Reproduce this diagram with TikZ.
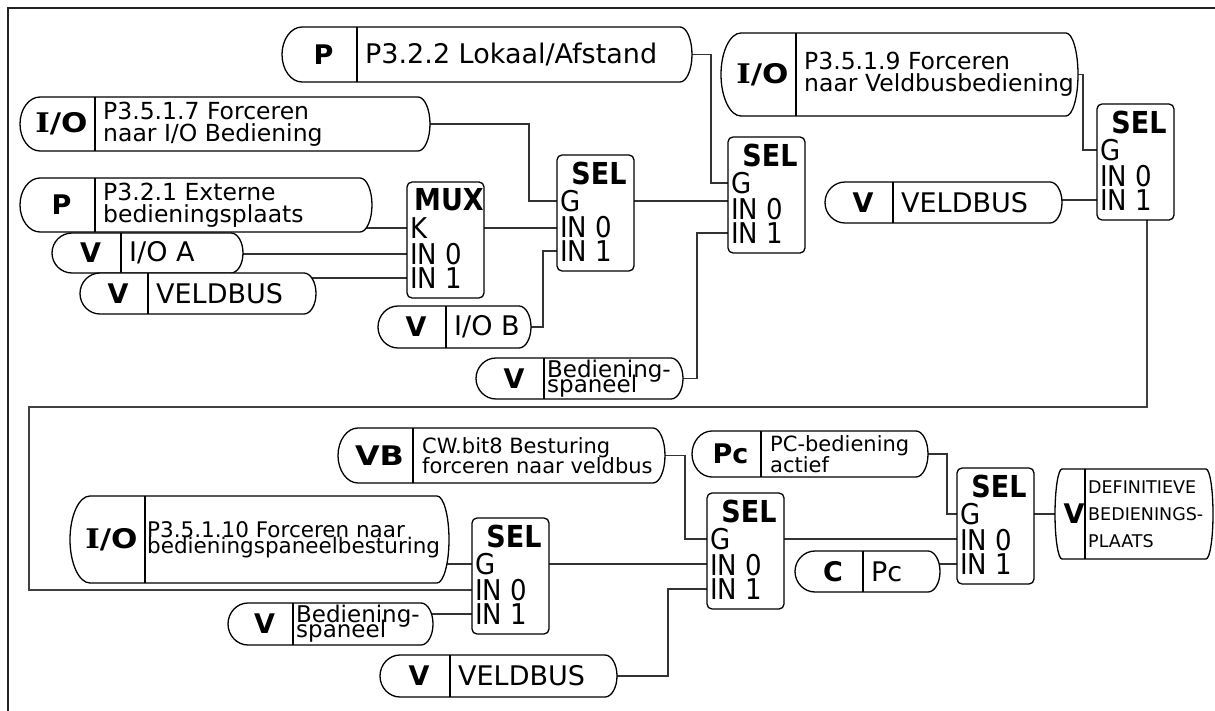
\documentclass[tikz,border=0pt]{standalone}
\usepackage{fontspec}
\setmainfont{DejaVu Sans}
\newfontfamily\serifI{DejaVu Serif}
\usepackage{tikz}
\usetikzlibrary{backgrounds}
\definecolor{wiregray}{HTML}{333333}
\definecolor{framegray}{HTML}{222222}

\tikzset{
  sigline/.style={line width=1.3pt, draw=black},
  wire/.style={line width=1.3pt, draw=wiregray},
  frameline/.style={line width=1.5pt, draw=framegray},
  tagfont/.style={font=\fontsize{27}{27}\selectfont\bfseries, inner sep=0pt},
  txtl/.style={font=\fontsize{27}{30}\selectfont, inner xsep=8pt, inner ysep=0pt, align=left},
  txtm/.style={font={\fontsize{23.5}{22}\selectfont\lineskiplimit=-50pt}, inner xsep=8pt, inner ysep=0pt, align=left},
  txts/.style={font={\fontsize{21}{20.5}\selectfont\lineskiplimit=-50pt}, inner xsep=9pt, inner ysep=0pt, align=left},
  txtw/.style={font={\fontsize{21.5}{16}\selectfont\lineskiplimit=-50pt}, inner xsep=2pt, inner ysep=0pt, align=left},
  txtp/.style={font={\fontsize{23}{15}\selectfont\lineskiplimit=-50pt}, inner xsep=3pt, inner ysep=0pt, align=left},
  txtd/.style={font={\fontsize{17.5}{27}\selectfont\lineskiplimit=-50pt}, inner xsep=3pt, inner ysep=0pt, align=left},
  blockbox/.style={draw, line width=1.3pt, rounded corners=5pt, fill=white,
    minimum width=77pt, minimum height=116pt, inner sep=0pt, outer sep=0pt},
  blocktitle/.style={font=\fontsize{27}{27}\selectfont\bfseries, inner sep=0pt},
  rowtext/.style={font=\fontsize{26}{26}\selectfont, anchor=west, inner xsep=3pt, inner ysep=0pt}
}

% wide bold I/O with a slab I
\newcommand{\iotag}{\scalebox{1.15}[1]{{\serifI I}/O}}

% arc widths of the signal boxes
\newcommand{\sigleft}{20}
\newcommand{\sigright}{12}

% signal box: name, left, top, right, bottom, divider, tag, text style, text
\newcommand{\sigbox}[9]{%
  \pgfmathsetmacro{\sbM}{(#3+#5)/2}%
  \pgfmathsetmacro{\sbH}{(#5-#3)/2*0.55}%
  \pgfmathsetmacro{\sbA}{#2+\sigleft}%
  \pgfmathsetmacro{\sbAc}{#2+0.45*\sigleft}%
  \pgfmathsetmacro{\sbB}{#4-\sigright}%
  \pgfmathsetmacro{\sbBc}{#4-0.45*\sigright}%
  \draw[sigline, fill=white] (\sbA,#3) -- (\sbB,#3)
    .. controls (\sbBc,#3) and (#4,{\sbM-\sbH}) .. (#4,\sbM)
    .. controls (#4,{\sbM+\sbH}) and (\sbBc,#5) .. (\sbB,#5)
    -- (\sbA,#5)
    .. controls (\sbAc,#5) and (#2,{\sbM+\sbH}) .. (#2,\sbM)
    .. controls (#2,{\sbM-\sbH}) and (\sbAc,#3) .. cycle;
  \draw[sigline] (#6,#3) -- (#6,#5);
  \node[inner sep=0pt, outer sep=0pt, minimum width={(#4-#2)*1pt},
    minimum height={(#5-#3)*1pt}] (#1) at ({(#2+#4)/2},\sbM) {};
  \coordinate (#1-r) at ({#4-15},\sbM);
  \node[tagfont] (#1-tag) at ({(#2+#6)/2+4},\sbM) {#7};
  \node[#8, anchor=west] (#1-txt) at (#6,\sbM) {#9};
}

% function block: name, left, top, title, first input
\newcommand{\selblock}[5]{%
  \node[blockbox] (#1) at ({#2+38.5},{#3+58}) {};
  \node[blocktitle] (#1-title) at ({#2+42},{#3+18}) {\scalebox{1}[1.12]{#4}};
  \foreach \port/\lab/\dy in {g/#5/46, in0/IN 0/72, in1/IN 1/96} {
    \coordinate (#1-\port) at (#2,{#3+\dy});
    \node[rowtext] (#1-\port-lab) at (#1-\port) {\scalebox{1}[1.1]{\lab}};
  }
}

\begin{document}
\begin{tikzpicture}[x=1pt, y=-1pt]
    \useasboundingbox (0,0) rectangle (1215,711);

    % Frame
    \draw[frameline] (1215,8) -- (8,8) -- (8,711);

    % Upper chain
    \sigbox{pl}{282}{27}{692}{82}{357}{P}{txtl}{P3.2.2 Lokaal/Afstand}
    \sigbox{iofw}{20}{97}{430}{151}{95}{\iotag}{txtm}{P3.5.1.7 Forceren\\naar I/O Bediening}
    \sigbox{pext}{20}{178}{372}{232}{95}{P}{txtm}{P3.2.1 Externe\\bedieningsplaats}
    \sigbox{ioa}{52}{233}{243}{273}{121}{V}{txtl}{I/O A}
    \sigbox{vbus1}{80}{273}{316}{314}{148}{V}{txtl}{VELDBUS}
    \sigbox{iob}{378}{306}{531}{348}{446}{V}{txtl}{I/O B}
    \sigbox{bp1}{476}{358}{683}{399}{544}{V}{txtp}{Bediening-\\spaneel}
    \sigbox{iofv}{721}{33}{1078}{116}{796}{\iotag}{txtm}{P3.5.1.9 Forceren\\naar Veldbusbediening}
    \sigbox{vbus2}{825}{182}{1062}{223}{893}{V}{txtl}{VELDBUS}

    \selblock{mux}{407}{182}{MUX}{K}
    \selblock{s1}{557}{155}{SEL}{G}
    \selblock{s2}{728}{137}{SEL}{G}
    \selblock{s3}{1097}{104}{SEL}{G}

    % Lower chain
    \sigbox{cw}{338}{428}{665}{483}{413}{\scalebox{1.18}[1]{VB}}{txts}{CW.bit8 Besturing\\forceren naar veldbus}
    \sigbox{pc}{692}{431}{928}{477}{761}{Pc}{txts}{PC-bediening\\actief}
    \sigbox{iofb}{70}{496}{449}{583}{145}{\iotag}{txtw}{P3.5.1.10 Forceren naar\\bedieningspaneelbesturing}
    \sigbox{bp2}{228}{603}{433}{645}{293}{V}{txtp}{Bediening-\\spaneel}
    \sigbox{vbus3}{380}{655}{617}{697}{450}{V}{txtl}{VELDBUS}
    \sigbox{cpc}{795}{551}{940}{592}{863}{C}{txtl}{Pc}
    \renewcommand{\sigleft}{7}\renewcommand{\sigright}{7}
    \sigbox{defpl}{1055}{469}{1213}{559}{1085}{V}{txtd}{DEFINITIEVE\\BEDIENINGS-\\PLAATS}

    \selblock{s4}{472}{518}{SEL}{G}
    \selblock{s5}{707}{493}{SEL}{G}
    \selblock{s6}{957}{468}{SEL}{G}

    \coordinate (ret) at (29,407);

    % Wires
    \begin{scope}[on background layer]
        \draw[wire] (pl.east) -- ++(19,0) |- (s2-g);
        \draw[wire] (iofw.east) -- ++(99,0) |- (s1-g);
        \draw[wire] (pext-r |- mux-g) -- (mux-g);
        \draw[wire] (ioa-r |- mux-in0) -- (mux-in0);
        \draw[wire] (vbus1-r |- mux-in1) -- (mux-in1);
        \draw[wire] (mux.east |- mux-g) -- (s1.west |- mux-g);
        \draw[wire] (iob.east) -- ++(12,0) |- (s1-in1);
        \draw[wire] (s1.east |- s1-g) -- (s2.west |- s1-g);
        \draw[wire] (bp1.east) -- ++(14,0) |- (s2-in1);
        \draw[wire] (iofv.east) -- ++(5,0) |- (s3-g);
        \draw[wire] (vbus2-r |- s3-in1) -- (s3-in1);
        \draw[wire, line width=2pt, draw=black!75] ([xshift=11pt]s3.south) |- (ret) |- (s4-in0);
        \draw[wire] (iofb-r |- s4-g) -- (s4-g);
        \draw[wire] (bp2-r |- s4-in1) -- (s4-in1);
        \draw[wire] (s4.east |- s4-g) -- (s5.west |- s4-g);
        \draw[wire] (cw.east) -- ++(20,0) |- (s5-g);
        \draw[wire] (vbus3.east) -- ++(51,0) |- (s5-in1);
        \draw[wire] (s5.east |- s5-g) -- (s6.west |- s5-g);
        \draw[wire] (pc.east) -- ++(19,0) |- (s6-g);
        \draw[wire] (cpc-r |- s6-in1) -- (s6-in1);
        \draw[wire] (s6.east |- s6-g) -- (defpl.west |- s6-g);
    \end{scope}

\end{tikzpicture}
\end{document}
